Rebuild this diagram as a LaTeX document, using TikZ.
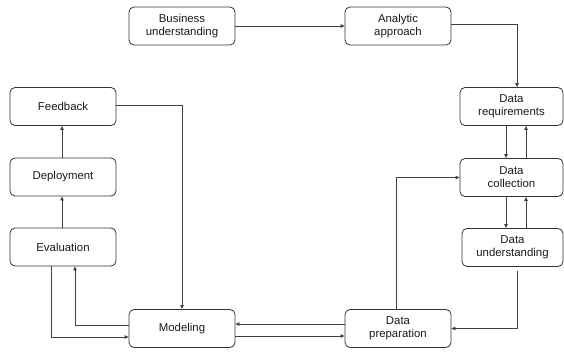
\documentclass[tikz,border=0pt]{standalone}
\usepackage{fontspec}
\setmainfont{Liberation Sans}
\usetikzlibrary{arrows.meta}
\begin{document}
\begin{tikzpicture}[x=1pt,y=-1pt,
  stage/.style={draw=black!80, line width=0.8pt, rounded corners=5pt, minimum width=106pt, minimum height=38pt, align=center, inner sep=1pt, font=\fontsize{11.4}{13.2}\selectfont, text=black!90},
  link/.style={draw=black!75, line width=0.8pt, -{Triangle[length=4pt,width=3.4pt]}}]
\useasboundingbox (0,0) rectangle (564,352);
\node[stage] (bu) at (182,26) {Business\\understanding};
\node[stage] (aa) at (398,26) {Analytic\\approach};
\node[stage, minimum width=103pt] (dr) at (511.5,106.5) {Data\\requirements};
\node[stage, minimum width=103pt] (dc) at (511.5,177.5) {Data\\collection};
\node[stage, minimum width=101pt] (du) at (512.5,247.5) {Data\\understanding};
\node[stage] (dp) at (398,328.5) {Data\\preparation};
\node[stage] (mo) at (182,328.5) {Modeling};
\node[stage] (ev) at (63,247) {Evaluation};
\node[stage] (de) at (63,177) {Deployment};
\node[stage] (fb) at (63,106.5) {Feedback};
\draw[link] (bu.east) -- (aa.west);
\draw[link] ([yshift=2pt]aa.east) -| ([xshift=5.5pt]dr.north);
\draw[link] ([xshift=-5.5pt]dr.south) -- ([xshift=-5.5pt]dc.north);
\draw[link] ([xshift=14.5pt]dc.north) -- ([xshift=14.5pt]dr.south);
\draw[link] ([xshift=-5.5pt]dc.south) -- ([xshift=-6.5pt]du.north);
\draw[link] ([xshift=13.5pt]du.north) -- ([xshift=14.5pt]dc.south);
\draw[link] ([xshift=4.5pt,yshift=-4pt]du.south) |- (dp.east);
\draw[link] ([xshift=-2pt]dp.north) |- (dc.west);
\draw[link] ([yshift=4.5pt]dp.west) -- ([yshift=4.5pt]mo.east);
\draw[link] ([yshift=-7.5pt]mo.east) -- ([yshift=-7.5pt]dp.west);
\draw[link] ([yshift=3.5pt]mo.west) -| ([xshift=12pt]ev.south);
\draw[link] ([xshift=-12pt]ev.south) |- ([yshift=-8.5pt]mo.west);
\draw[link] ([xshift=-1pt]ev.north) -- ([xshift=-1pt]de.south);
\draw[link] ([xshift=-1pt]de.north) -- ([xshift=-1pt]fb.south);
\draw[link] ([yshift=1.5pt]fb.east) -| (mo.north);
\end{tikzpicture}
\end{document}
